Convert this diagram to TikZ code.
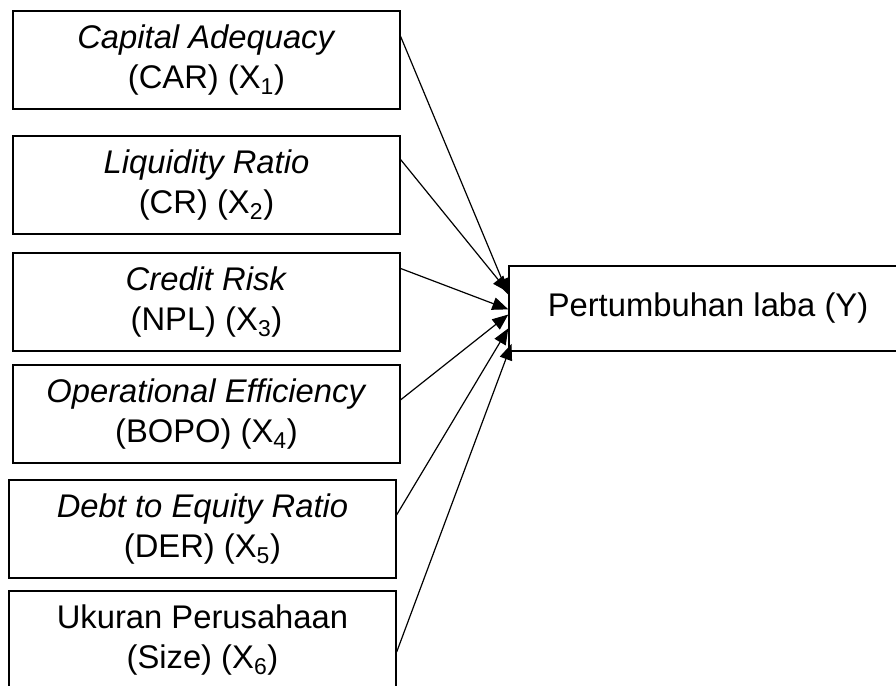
\documentclass[tikz,border=0pt]{standalone}
\usepackage{fontspec}
\setmainfont{Liberation Sans}
\usetikzlibrary{calc,arrows.meta}
\tikzset{
	varbox/.style={draw, line width=0.35mm, minimum width=9.675cm, minimum height=2.45cm, inner sep=0pt, align=center, font=\fontsize{23.3}{29}\selectfont},
	hasilbox/.style={draw, line width=0.35mm, minimum width=9.95cm, minimum height=2.125cm, inner sep=0pt, font=\fontsize{23.3}{29}\selectfont},
	pengaruh/.style={line width=0.3mm, -{Triangle[length=0.4cm,width=0.32cm]}},
}

\begin{document}
\begin{tikzpicture}
		%%%%% START %%%%%
		\useasboundingbox (0, 0) rectangle (22.4, -17.15);
		\clip (0, 0) rectangle (22.4, -17.15);
		
		\node[varbox] (c1) at (5.1625, -1.5) {\textit{Capital Adequacy}\\(CAR) (X\textsubscript{1})};
		\node[varbox] (c2) at (5.1625, -4.625) {\textit{Liquidity Ratio}\\(CR) (X\textsubscript{2})};
		\node[varbox] (c3) at (5.1625, -7.55) {\textit{Credit Risk}\\(NPL) (X\textsubscript{3})};
		\node[varbox] (c4) at (5.1625, -10.35) {\textit{Operational Efficiency}\\(BOPO) (X\textsubscript{4})};
		\node[varbox] (c5) at (5.0625, -13.225) {\textit{Debt to Equity Ratio}\\(DER) (X\textsubscript{5})};
		\node[varbox] (c6) at (5.0625, -16.0) {Ukuran Perusahaan\\(Size) (X\textsubscript{6})};
		
		\node[hasilbox] (y) at (17.7, -7.7125) {Pertumbuhan laba (Y)};
		
		\draw[pengaruh] ($(c1.north east)!0.265!(c1.south east)$) -- ($(y.north west)!0.34!(y.south west)$);
		\draw[pengaruh] ($(c2.north east)!0.245!(c2.south east)$) -- ($(y.north west)!0.31!(y.south west)$);
		\draw[pengaruh] ($(c3.north east)!0.163!(c3.south east)$) -- ($(y.north west)!0.51!(y.south west)$);
		\draw[pengaruh] ($(c4.north east)!0.357!(c4.south east)$) -- ($(y.north west)!0.57!(y.south west)$);
		\draw[pengaruh] ($(c5.north east)!0.357!(c5.south east)$) -- ($(y.north west)!0.73!(y.south west)$);
		\draw[pengaruh] ($(c6.north east)!0.62!(c6.south east)$) -- ($(y.north west)!0.91!(y.south west) + (0.08, 0)$);
		
		%%%%% END %%%%%
	\end{tikzpicture}
\end{document}
